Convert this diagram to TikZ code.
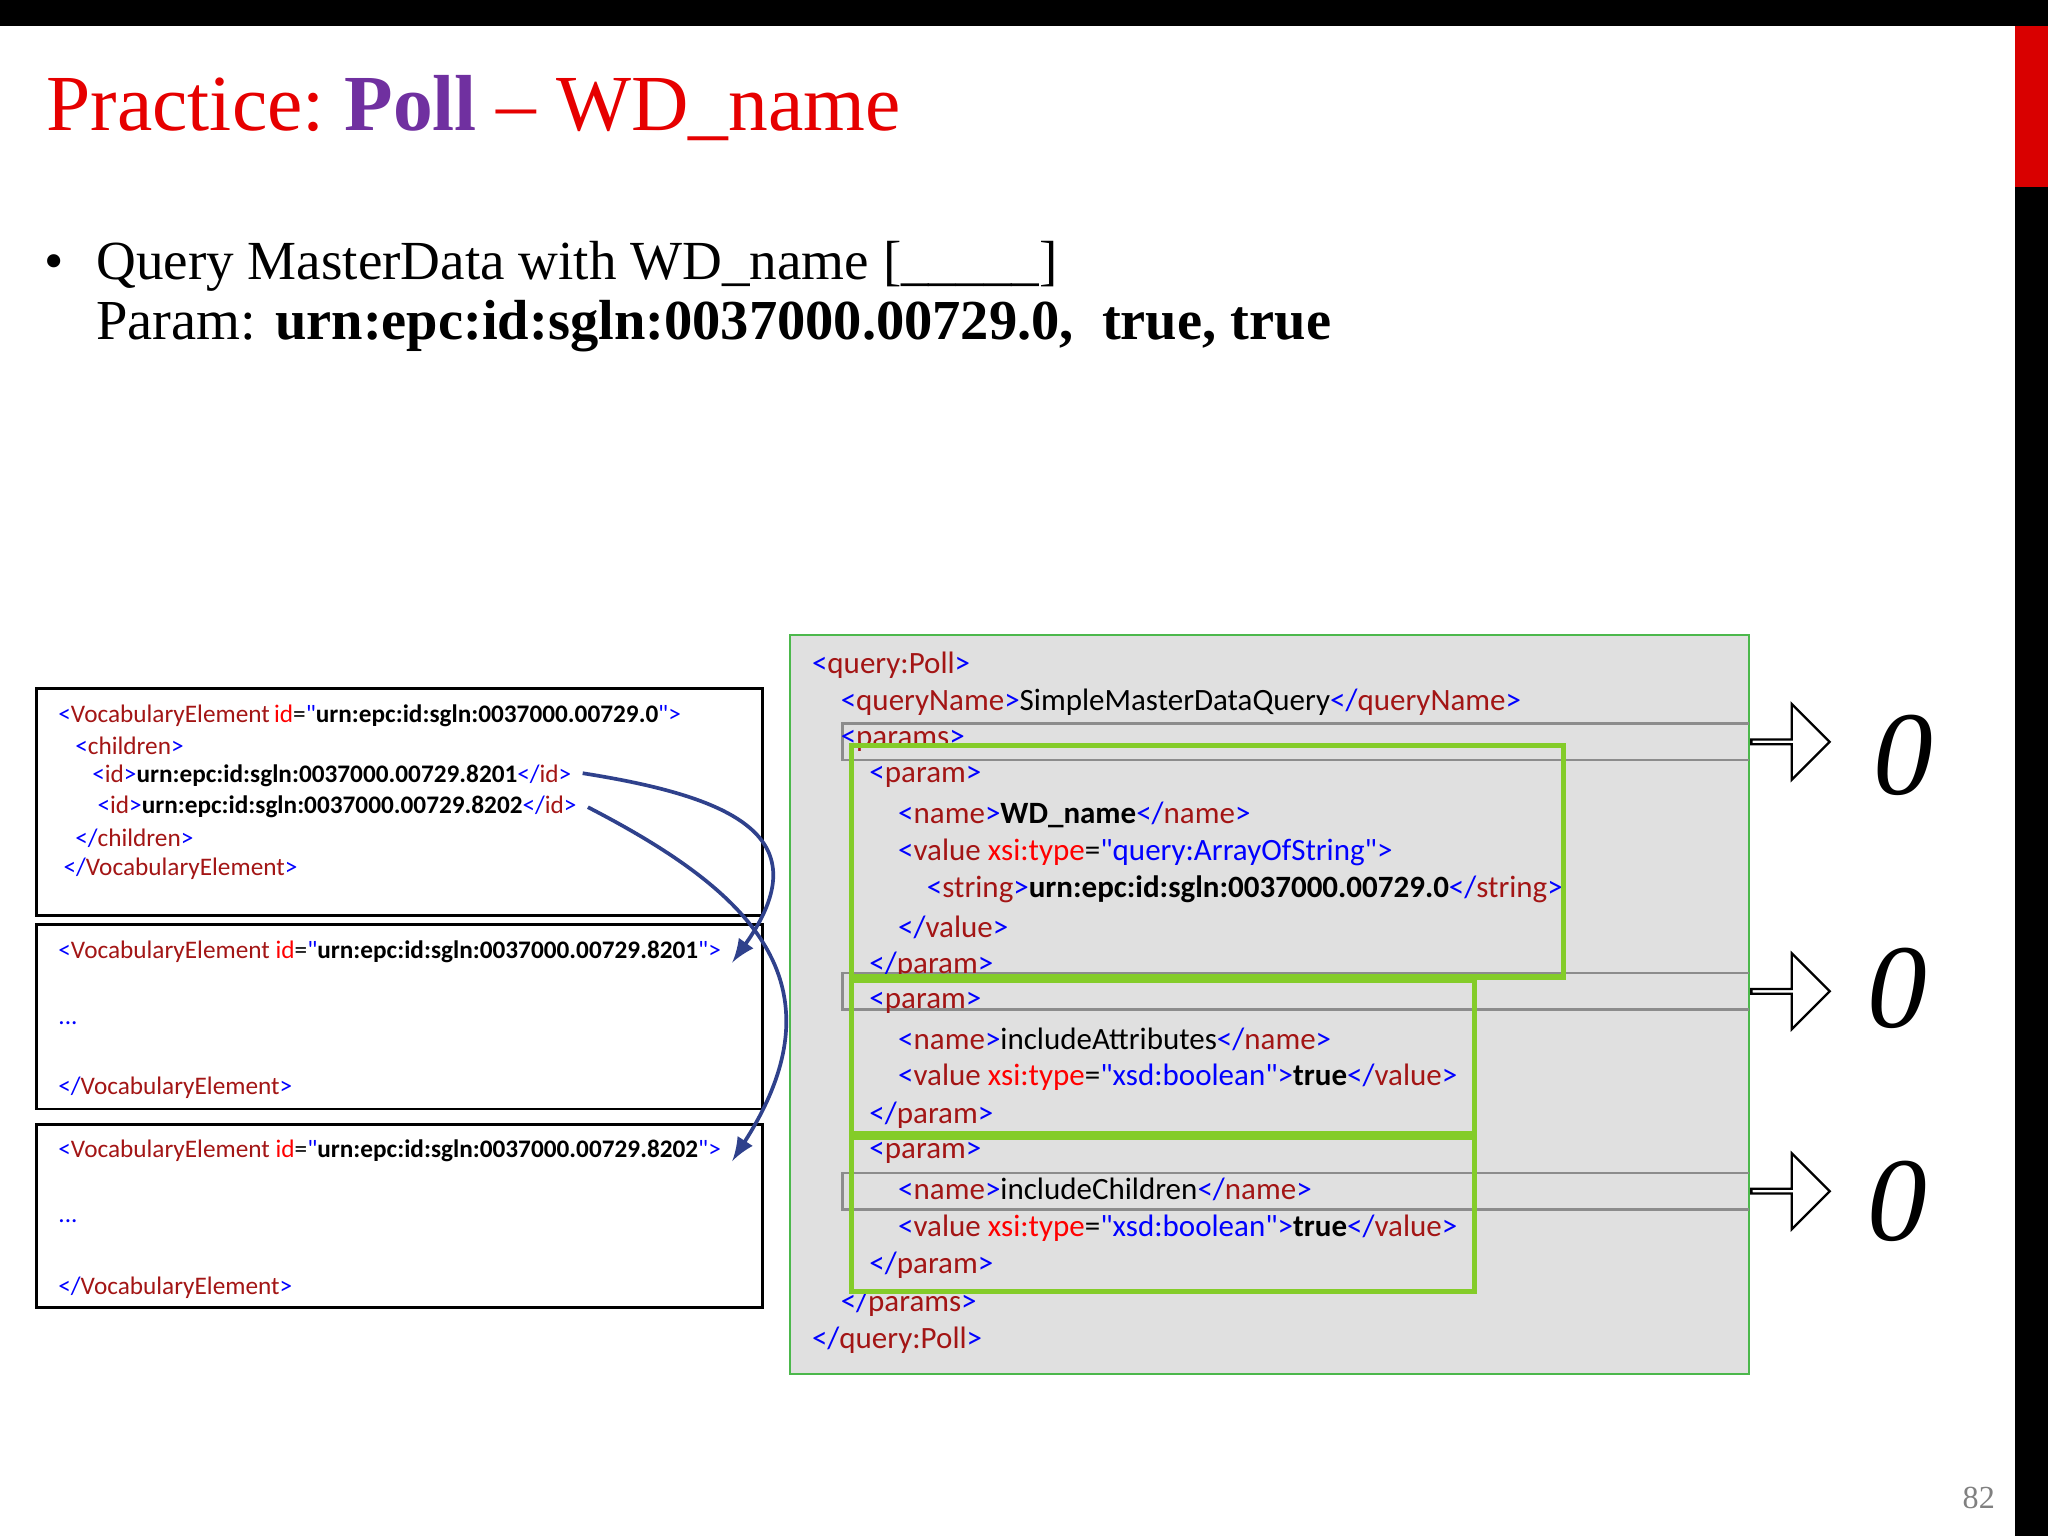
\documentclass[tikz,border=0pt]{standalone}
\usepackage{fontspec}
\setmainfont{Liberation Serif}
\newfontfamily\calfont{Carlito}
\usetikzlibrary{shapes.arrows}
\definecolor{xb}{RGB}{0,0,255}
\definecolor{xr}{RGB}{163,21,21}
\definecolor{xa}{RGB}{255,0,0}
\definecolor{gbox}{RGB}{132,204,41}
\definecolor{ttl}{RGB}{230,0,0}
\definecolor{pur}{RGB}{112,48,160}
\definecolor{arr}{RGB}{47,65,140}
\newcommand\ot[1]{\textcolor{xb}{<}\textcolor{xr}{#1}\textcolor{xb}{>}}
\newcommand\ct[1]{\textcolor{xb}{</}\textcolor{xr}{#1}\textcolor{xb}{>}}
\newcommand\at[2]{\textcolor{xa}{#1}=\textcolor{xb}{"#2"}}
\begin{document}
\begin{tikzpicture}[x=0.01cm,y=-0.01cm,
  code/.style={anchor=west,inner sep=0,font=\calfont\fontsize{6.75pt}{7.5pt}\selectfont},
  small/.style={anchor=west,inner sep=0,font=\calfont\fontsize{5.5pt}{6.5pt}\selectfont},
  gb/.style={draw=gbox,line width=1.1pt},
  lb/.style={draw=black,line width=0.6pt},
  hol/.style={single arrow,draw=black,fill=white,line width=0.5pt,minimum height=60*0.01cm,minimum width=58*0.01cm,single arrow head extend=13*0.01cm,inner sep=0,anchor=west},
  zero/.style={font=\itshape\fontsize{26pt}{26pt}\selectfont,inner sep=0},
  cur/.style={draw=arr,line width=0.8pt,-latex}]
\useasboundingbox (0,0) rectangle (1568,1176);
\fill[white] (0,0) rectangle (1568,1176);
\fill[black] (0,0) rectangle (1568,20);
\fill[black] (1543,0) rectangle (1568,1176);
\fill[red!85!black] (1543,20) rectangle (1568,143);
\node[anchor=base west,inner sep=0,font=\fontsize{17.3pt}{20pt}\selectfont] (title) at (35,100) {\textcolor{ttl}{Practice:~}\textcolor{pur}{\textbf{Poll}}\textcolor{ttl}{~--~WD\_name}};
\node[anchor=base west,inner sep=0,font=\fontsize{12pt}{14pt}\selectfont] (bul) at (33,214) {\textbullet};
\node[anchor=base west,inner sep=0,font=\fontsize{12pt}{14pt}\selectfont] (l1) at (73,214) {Query MasterData with WD\_name [\_\_\_\_\_]};
\node[anchor=base west,inner sep=0,font=\fontsize{12.3pt}{14pt}\selectfont] (l2) at (73,260) {Param: \textbf{urn:epc:id:sgln:0037000.00729.0,\ \ true, true}};
% gray code box
\draw[draw=green!60!black!70,fill=black!12,line width=0.5pt] (605,486) rectangle (1339,1052);
\draw[black!45,line width=0.5pt] (1339,554) -- (645,554) -- (645,582) -- (1339,582);
\draw[black!45,line width=0.5pt] (1339,745) -- (645,745) -- (645,773) -- (1339,773);
\draw[black!45,line width=0.5pt] (1339,898) -- (645,898) -- (645,926) -- (1339,926);
\node[hol] (a1) at (1340,568) {};
\node[hol] (a2) at (1340,759) {};
\node[hol] (a3) at (1340,912) {};
\node[zero] (z1) at (1457,578) {0};
\node[zero] (z2) at (1453,757) {0};
\node[zero] (z3) at (1453,920) {0};
\node[code] (c1) at (621,509) {\ot{query:Poll}};
\node[code] (c2) at (643,538) {\ot{queryName}SimpleMasterDataQuery\ct{queryName}};
\node[code] (c3) at (643,567) {\ot{params}};
\node[code] (c4) at (665,595) {\ot{param}};
\node[code] (c5) at (687,624) {\ot{name}\textbf{WD\_name}\ct{name}};
\node[code] (c6) at (687,653) {\textcolor{xb}{<}\textcolor{xr}{value} \at{xsi:type}{query:ArrayOfString}\textcolor{xb}{>}};
\node[code] (c7) at (709,681) {\ot{string}\textbf{urn:epc:id:sgln:0037000.00729.0}\ct{string}};
\node[code] (c8) at (687,710) {\ct{value}};
\node[code] (c9) at (665,739) {\ct{param}};
\node[code] (c10) at (665,768) {\ot{param}};
\node[code] (c11) at (687,796) {\ot{name}includeAttributes\ct{name}};
\node[code] (c12) at (687,825) {\textcolor{xb}{<}\textcolor{xr}{value} \at{xsi:type}{xsd:boolean}\textcolor{xb}{>}\textbf{true}\ct{value}};
\node[code] (c13) at (665,854) {\ct{param}};
\node[code] (c14) at (665,883) {\ot{param}};
\node[code] (c15) at (687,911) {\ot{name}includeChildren\ct{name}};
\node[code] (c16) at (687,940) {\textcolor{xb}{<}\textcolor{xr}{value} \at{xsi:type}{xsd:boolean}\textcolor{xb}{>}\textbf{true}\ct{value}};
\node[code] (c17) at (665,969) {\ct{param}};
\node[code] (c18) at (643,998) {\ct{params}};
\node[code] (c19) at (621,1026) {\ct{query:Poll}};
\draw[gb] (652,571) rectangle (1197,748);
\draw[gb] (652,751) rectangle (1129,868);
\draw[gb] (652,871) rectangle (1129,989);
% left boxes
\draw[lb] (28,527) rectangle (584,701);
\draw[lb] (28,708) rectangle (584,849);
\draw[lb] (28,861) rectangle (584,1001);
\node[small] (v1) at (44,548) {\textcolor{xb}{<}\textcolor{xr}{VocabularyElement}\,\at{id}{\textcolor{black}{\textbf{urn:epc:id:sgln:0037000.00729.0}}}\textcolor{xb}{>}};
\node[small] (v2) at (57,571) {\ot{children}};
\node[small] (v3) at (70,594) {\ot{id}\textbf{urn:epc:id:sgln:0037000.00729.8201}\ct{id}};
\node[small] (v4) at (74,618) {\ot{id}\textbf{urn:epc:id:sgln:0037000.00729.8202}\ct{id}};
\node[small] (v5) at (57,642) {\ct{children}};
\node[small] (v6) at (48,665) {\ct{VocabularyElement}};
\node[small] (w1) at (44,729) {\textcolor{xb}{<}\textcolor{xr}{VocabularyElement} \at{id}{\textcolor{black}{\textbf{urn:epc:id:sgln:0037000.00729.8201}}}\textcolor{xb}{>}};
\node[small] (w2) at (44,783) {\textcolor{xb}{...}};
\node[small] (w3) at (44,833) {\ct{VocabularyElement}};
\node[small] (u1) at (44,881) {\textcolor{xb}{<}\textcolor{xr}{VocabularyElement} \at{id}{\textcolor{black}{\textbf{urn:epc:id:sgln:0037000.00729.8202}}}\textcolor{xb}{>}};
\node[small] (u2) at (44,935) {\textcolor{xb}{...}};
\node[small] (u3) at (44,986) {\ct{VocabularyElement}};
\draw[cur] (v3.east) ++(8,-2) .. controls (560,610) and (630,640) .. ([xshift=8*0.01cm,yshift=-8*0.01cm]w1.east);
\draw[cur] (v4.east) ++(8,0) .. controls (570,680) and (650,750) .. ([xshift=8*0.01cm,yshift=-8*0.01cm]u1.east);
\node[anchor=east,inner sep=0,text=black!50,font=\fontsize{7pt}{8pt}\selectfont] (pg) at (1528,1147) {82};
\end{tikzpicture}
\end{document}
